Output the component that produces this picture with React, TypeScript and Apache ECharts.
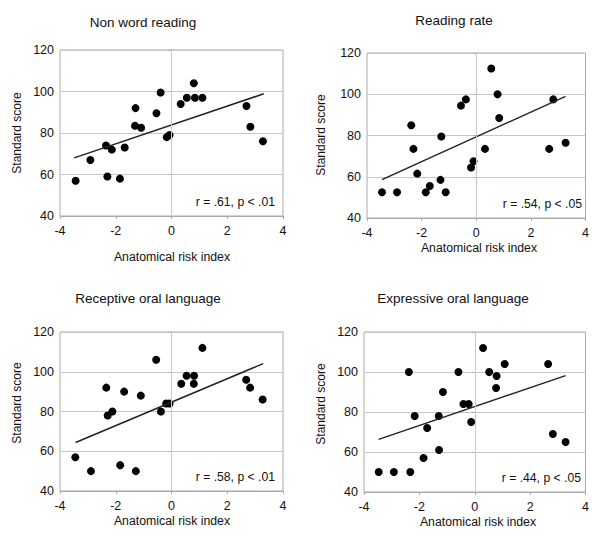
import React, { useEffect, useRef } from "react";
import * as echarts from "echarts";

const X_TICKS = [-4, -2, 0, 2, 4];
const Y_TICKS = [40, 60, 80, 100, 120];

const titles = ["Non word reading", "Reading rate", "Receptive oral language", "Expressive oral language"];
const stats = ["r = .61, p < .01", "r = .54, p < .05", "r = .58, p < .01", "r = .44, p < .05"];

const nonWordX = [-3.44, -2.91, -2.35, -2.14, -2.30, -1.85, -1.68, -1.29, -1.31, -1.09, -0.54, -0.39, -0.17, -0.07, 0.33, 0.55, 0.80, 0.84, 1.11, 2.69, 2.83, 3.28];
const nonWordY = [57, 67, 74, 72, 59, 58, 73, 92, 83.5, 82.5, 89.5, 99.5, 78, 79, 94, 97, 104, 97, 97, 93, 83, 76];
const nonWordFit = [[-3.49, 68.0], [3.31, 98.9]];

const rateX = [-3.45, -2.90, -2.38, -2.30, -2.16, -1.85, -1.70, -1.28, -1.31, -1.12, -0.56, -0.38, -0.19, -0.10, 0.32, 0.55, 0.78, 0.84, 2.67, 2.82, 3.27];
const rateY = [52.5, 52.5, 85, 73.5, 61.5, 52.5, 55.5, 79.5, 58.5, 52.5, 94.5, 97.5, 64.5, 67.5, 73.5, 112.5, 100, 88.5, 73.5, 97.5, 76.5];
const rateFit = [[-3.45, 58.6], [3.27, 99.0]];

const receptiveX = [-3.45, -2.89, -2.34, -2.29, -2.12, -1.84, -1.70, -1.28, -1.10, -0.55, -0.38, -0.19, -0.07, 0.35, 0.54, 0.81, 0.80, 1.11, 2.68, 2.82, 3.27];
const receptiveY = [57, 50, 92, 78, 80, 53, 90, 50, 88, 106, 80, 84, 84, 94, 98, 98, 94, 112, 96, 92, 86];
const receptiveFit = [[-3.44, 64.4], [3.29, 104.1]];

const expressiveX = [-3.47, -2.92, -2.33, -2.38, -2.17, -1.72, -1.85, -1.29, -1.30, -1.15, -0.59, -0.41, -0.22, -0.13, 0.30, 0.52, 0.79, 0.77, 1.08, 2.65, 2.82, 3.28];
const expressiveY = [50, 50, 50, 100, 78, 72, 57, 61, 78, 90, 100, 84, 84, 75, 112, 100, 98, 92, 104, 104, 69, 65];
const expressiveFit = [[-3.47, 66.3], [3.28, 98.2]];

const panels = [
  { xs: nonWordX, ys: nonWordY, fit: nonWordFit },
  { xs: rateX, ys: rateY, fit: rateFit },
  { xs: receptiveX, ys: receptiveY, fit: receptiveFit },
  { xs: expressiveX, ys: expressiveY, fit: expressiveFit },
];

// layout (pixels)
const grids = [
  { left: 60, top: 50, width: 223, height: 166 },
  { left: 367, top: 53, width: 223, height: 165 },
  { left: 60, top: 332, width: 223, height: 159 },
  { left: 364, top: 332, width: 225, height: 160 },
];
const titlePos = [[143, 22], [454, 20], [148, 298], [453, 298]];
const yNamePos = [[17, 133], [321, 135], [17, 403], [321, 404]];
const xNamePos = [[172, 257], [479, 248], [172, 521], [478, 522]];

const FONT = "Liberation Sans, Arial, sans-serif";
const TEXT = "#111";

export default function App() {
  const ref = useRef<HTMLDivElement>(null);
  useEffect(() => {
    if (!ref.current) return;
    const chart = echarts.init(ref.current, null, { renderer: "svg" });
    const xAxis: any[] = [];
    const yAxis: any[] = [];
    const series: any[] = [];
    const graphic: any[] = [];
    panels.forEach((p, i) => {
      xAxis.push({
        type: "value", gridIndex: i, min: X_TICKS[0], max: X_TICKS[X_TICKS.length - 1], interval: 2,
        axisLine: { show: true, onZero: false, lineStyle: { color: "#aaa" } },
        axisTick: { show: true, length: 3, lineStyle: { color: "#aaa" } },
        axisLabel: { color: TEXT, fontSize: 12.5, fontFamily: FONT, margin: 8 },
        splitLine: { show: false },
      });
      yAxis.push({
        type: "value", gridIndex: i, min: Y_TICKS[0], max: Y_TICKS[Y_TICKS.length - 1], interval: 20,
        axisLine: { show: true, lineStyle: { color: "#aaa" } },
        axisTick: { show: true, length: 3, lineStyle: { color: "#aaa" } },
        axisLabel: { color: TEXT, fontSize: 12.5, fontFamily: FONT, margin: 6 },
        splitLine: { show: true, lineStyle: { color: "#c8c8c8", width: 1 } },
      });
      series.push({
        type: "scatter", xAxisIndex: i, yAxisIndex: i, symbolSize: 8,
        itemStyle: { color: "#000", opacity: 1 },
        data: p.xs.map((x, k) => [x, p.ys[k]]),
        markLine: {
          silent: true, symbol: "none", label: { show: false },
          lineStyle: { color: "#c8c8c8", type: "solid", width: 1 },
          data: [{ xAxis: 0 }],
        },
        z: 3,
      });
      series.push({
        type: "line", xAxisIndex: i, yAxisIndex: i, data: p.fit, showSymbol: false, symbol: "none",
        lineStyle: { color: "#222", width: 1.5 }, z: 4,
      });
      const g = grids[i];
      graphic.push({
        type: "text", x: titlePos[i][0], y: titlePos[i][1],
        style: { text: titles[i], fill: TEXT, font: `13.5px ${FONT}`, textAlign: "center", textVerticalAlign: "middle" },
      });
      graphic.push({
        type: "text", x: yNamePos[i][0], y: yNamePos[i][1], rotation: Math.PI / 2,
        style: { text: "Standard score", fill: TEXT, font: `12px ${FONT}`, textAlign: "center", textVerticalAlign: "middle" },
      });
      graphic.push({
        type: "text", x: xNamePos[i][0], y: xNamePos[i][1],
        style: { text: "Anatomical risk index", fill: TEXT, font: `12.3px ${FONT}`, textAlign: "center", textVerticalAlign: "middle" },
      });
      graphic.push({
        type: "text", x: g.left + g.width - 8, y: g.top + g.height - 14,
        style: { text: stats[i], fill: TEXT, font: `12.2px ${FONT}`, textAlign: "right", textVerticalAlign: "middle" },
      });
    });
    chart.setOption({
      animation: false,
      backgroundColor: "#fff",
      grid: grids.map((g) => ({ ...g, show: true, borderColor: "#aaa", borderWidth: 1, containLabel: false })),
      xAxis, yAxis, series, graphic,
    });
    return () => chart.dispose();
  }, []);
  return <div ref={ref} style={{ position: "fixed", left: 0, top: 0, width: 592, height: 540 }} />;
}
